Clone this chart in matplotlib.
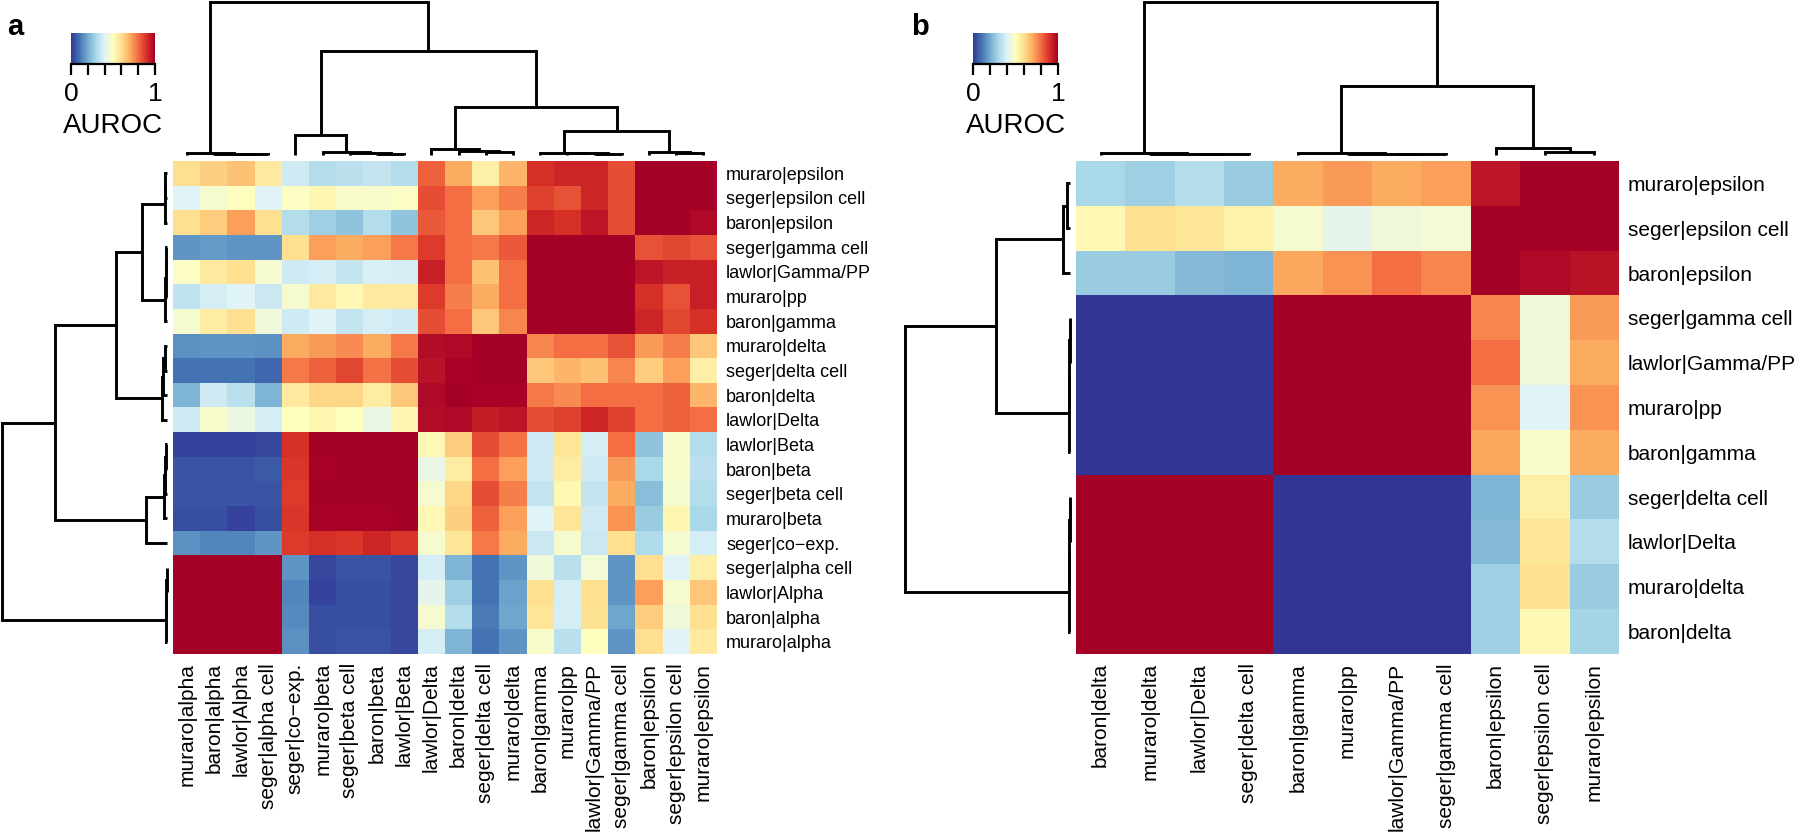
import numpy as np
import matplotlib
matplotlib.use("Agg")
import matplotlib.pyplot as plt

plt.rcParams['font.family'] = ['Liberation Sans', 'DejaVu Sans']

W, H, DPI = 1800, 833, 100

# ---------------- data ----------------
# panel a: column order (also the bottom-up row order)
cols_a = ["muraro|alpha", "baron|alpha", "lawlor|Alpha", "seger|alpha cell",
          "seger|co\u2212exp.", "muraro|beta", "seger|beta cell", "baron|beta",
          "lawlor|Beta", "lawlor|Delta", "baron|delta", "seger|delta cell",
          "muraro|delta", "baron|gamma", "muraro|pp", "lawlor|Gamma/PP",
          "seger|gamma cell", "baron|epsilon", "seger|epsilon cell", "muraro|epsilon"]
rows_a = cols_a[::-1]  # top to bottom

auroc_a = [
    [0.60, 0.63, 0.66, 0.57, 0.37, 0.32, 0.33, 0.35, 0.32, 0.82, 0.70, 0.55, 0.68, 0.90, 0.92, 0.92, 0.85, 1.00, 1.00, 1.00],
    [0.40, 0.47, 0.50, 0.40, 0.49, 0.53, 0.48, 0.48, 0.49, 0.85, 0.80, 0.72, 0.77, 0.87, 0.84, 0.92, 0.85, 1.00, 1.00, 1.00],
    [0.60, 0.64, 0.72, 0.60, 0.32, 0.28, 0.25, 0.32, 0.25, 0.83, 0.80, 0.65, 0.72, 0.92, 0.90, 0.95, 0.85, 1.00, 1.00, 0.98],
    [0.16, 0.17, 0.16, 0.16, 0.60, 0.72, 0.70, 0.72, 0.78, 0.88, 0.80, 0.78, 0.83, 1.00, 1.00, 1.00, 1.00, 0.84, 0.86, 0.84],
    [0.49, 0.57, 0.60, 0.47, 0.37, 0.38, 0.35, 0.39, 0.38, 0.93, 0.80, 0.66, 0.80, 1.00, 1.00, 1.00, 1.00, 0.95, 0.93, 0.93],
    [0.34, 0.38, 0.40, 0.36, 0.47, 0.57, 0.52, 0.57, 0.57, 0.88, 0.77, 0.70, 0.80, 1.00, 1.00, 1.00, 1.00, 0.90, 0.84, 0.93],
    [0.47, 0.56, 0.60, 0.45, 0.37, 0.40, 0.35, 0.38, 0.37, 0.85, 0.80, 0.65, 0.76, 1.00, 1.00, 1.00, 1.00, 0.92, 0.86, 0.90],
    [0.15, 0.16, 0.16, 0.15, 0.70, 0.73, 0.75, 0.70, 0.78, 0.97, 0.98, 1.00, 1.00, 0.76, 0.80, 0.80, 0.84, 0.73, 0.77, 0.65],
    [0.10, 0.10, 0.10, 0.08, 0.78, 0.82, 0.86, 0.79, 0.85, 0.96, 0.99, 1.00, 1.00, 0.65, 0.68, 0.66, 0.76, 0.64, 0.72, 0.55],
    [0.22, 0.37, 0.33, 0.22, 0.57, 0.62, 0.62, 0.56, 0.65, 0.98, 1.00, 0.99, 0.99, 0.78, 0.75, 0.80, 0.80, 0.80, 0.82, 0.68],
    [0.37, 0.48, 0.44, 0.38, 0.50, 0.53, 0.50, 0.43, 0.53, 0.97, 0.98, 0.94, 0.95, 0.85, 0.87, 0.92, 0.87, 0.80, 0.82, 0.80],
    [0.02, 0.02, 0.02, 0.03, 0.90, 1.00, 1.00, 1.00, 1.00, 0.52, 0.64, 0.85, 0.79, 0.37, 0.58, 0.38, 0.80, 0.25, 0.48, 0.32],
    [0.05, 0.05, 0.05, 0.06, 0.89, 0.99, 1.00, 1.00, 1.00, 0.43, 0.56, 0.80, 0.72, 0.37, 0.56, 0.37, 0.73, 0.30, 0.48, 0.33],
    [0.05, 0.05, 0.05, 0.05, 0.88, 1.00, 1.00, 1.00, 1.00, 0.47, 0.62, 0.85, 0.77, 0.35, 0.52, 0.35, 0.70, 0.24, 0.47, 0.32],
    [0.04, 0.04, 0.02, 0.04, 0.89, 0.99, 0.99, 0.99, 1.00, 0.52, 0.63, 0.82, 0.72, 0.40, 0.58, 0.37, 0.74, 0.27, 0.53, 0.30],
    [0.15, 0.13, 0.13, 0.16, 0.88, 0.90, 0.89, 0.92, 0.89, 0.47, 0.58, 0.78, 0.70, 0.36, 0.47, 0.36, 0.60, 0.31, 0.47, 0.38],
    [1.00, 1.00, 1.00, 1.00, 0.16, 0.03, 0.05, 0.05, 0.03, 0.38, 0.22, 0.10, 0.16, 0.45, 0.33, 0.46, 0.16, 0.60, 0.40, 0.55],
    [1.00, 1.00, 1.00, 1.00, 0.13, 0.02, 0.04, 0.04, 0.03, 0.42, 0.28, 0.10, 0.18, 0.60, 0.38, 0.60, 0.16, 0.72, 0.47, 0.65],
    [1.00, 1.00, 1.00, 1.00, 0.14, 0.04, 0.04, 0.04, 0.03, 0.47, 0.32, 0.11, 0.19, 0.58, 0.38, 0.59, 0.19, 0.64, 0.45, 0.60],
    [1.00, 1.00, 1.00, 1.00, 0.15, 0.04, 0.05, 0.05, 0.03, 0.38, 0.22, 0.10, 0.16, 0.48, 0.33, 0.50, 0.16, 0.60, 0.40, 0.57],
]

# panel a dendrogram (leaf indices into cols_a; merge heights, root = 1)
tree_a = ((0, (1, (2, 3, 0.003), 0.005), 0.008),
          ((4, (5, (6, (7, 8, 0.006), 0.010), 0.016), 0.125),
           ((9, (10, (11, 12, 0.015), 0.022), 0.033),
            ((13, (14, (15, 16, 0.005), 0.008), 0.011),
             (17, (18, 19, 0.010), 0.015), 0.153), 0.312), 0.68), 1.0)

# panel b
cols_b = ["baron|delta", "muraro|delta", "lawlor|Delta", "seger|delta cell",
          "baron|gamma", "muraro|pp", "lawlor|Gamma/PP", "seger|gamma cell",
          "baron|epsilon", "seger|epsilon cell", "muraro|epsilon"]
rows_b = cols_b[::-1]

auroc_b = [
    [0.30, 0.28, 0.32, 0.27, 0.70, 0.73, 0.70, 0.72, 0.95, 1.00, 1.00],
    [0.52, 0.60, 0.58, 0.54, 0.47, 0.42, 0.45, 0.46, 1.00, 1.00, 1.00],
    [0.27, 0.27, 0.23, 0.22, 0.71, 0.74, 0.80, 0.76, 1.00, 0.98, 0.96],
    [0.00, 0.00, 0.00, 0.00, 1.00, 1.00, 1.00, 1.00, 0.76, 0.45, 0.73],
    [0.00, 0.00, 0.00, 0.00, 1.00, 1.00, 1.00, 1.00, 0.80, 0.45, 0.70],
    [0.00, 0.00, 0.00, 0.00, 1.00, 1.00, 1.00, 1.00, 0.74, 0.40, 0.74],
    [0.00, 0.00, 0.00, 0.00, 1.00, 1.00, 1.00, 1.00, 0.71, 0.48, 0.70],
    [1.00, 1.00, 1.00, 1.00, 0.00, 0.00, 0.00, 0.00, 0.22, 0.55, 0.27],
    [1.00, 1.00, 1.00, 1.00, 0.00, 0.00, 0.00, 0.00, 0.23, 0.58, 0.32],
    [1.00, 1.00, 1.00, 1.00, 0.00, 0.00, 0.00, 0.00, 0.28, 0.60, 0.27],
    [1.00, 1.00, 1.00, 1.00, 0.00, 0.00, 0.00, 0.00, 0.28, 0.52, 0.29],
]

tree_b = ((0, (1, (2, 3, 0.003), 0.005), 0.008),
          ((4, (5, (6, 7, 0.003), 0.005), 0.008),
           (8, (9, 10, 0.0175), 0.043), 0.45), 1.0)

key_ticks = [0, 0.2, 0.4, 0.6, 0.8, 1.0]
key_labels = ["0", "", "", "", "", "1"]

CMAP = "RdYlBu_r"
LW = 2.1


# ---------------- helpers ----------------
def px_axes(fig, x0, y0, x1, y1):
    return fig.add_axes([x0 / W, 1 - y1 / H, (x1 - x0) / W, (y1 - y0) / H])


def draw_tree(ax, node, orient):
    if isinstance(node, int):
        return float(node), 0.0
    l, r, h = node
    pl, hl = draw_tree(ax, l, orient)
    pr, hr = draw_tree(ax, r, orient)
    p = [pl, pl, pr, pr]
    hh = [hl, h, h, hr]
    if orient == "top":
        ax.plot(p, hh, color="black", lw=LW, clip_on=False,
                solid_capstyle="butt", solid_joinstyle="miter")
    else:
        ax.plot(hh, p, color="black", lw=LW, clip_on=False,
                solid_capstyle="butt", solid_joinstyle="miter")
    return (pl + pr) / 2.0, h


def panel(fig, mat, rows, cols, tree, hm, top_y, left_x, key, letter,
          row_fs, col_fs):
    x0, y0, x1, y1 = hm
    n = len(cols)
    ax = px_axes(fig, x0, y0, x1, y1)
    ax.imshow(np.array(mat), cmap=CMAP, vmin=0, vmax=1, aspect="auto",
              interpolation="nearest", extent=(-0.5, n - 0.5, n - 0.5, -0.5))
    for s in ax.spines.values():
        s.set_visible(False)
    ax.yaxis.tick_right()
    ax.set_yticks(range(n))
    ax.set_yticklabels(rows, fontsize=row_fs)
    ax.set_xticks(range(n))
    ax.set_xticklabels(cols, rotation=90, fontsize=col_fs)
    ax.tick_params(length=0, pad=6.5)

    # top dendrogram
    axt = px_axes(fig, x0, top_y[0], x1, top_y[1])
    axt.set_xlim(-0.5, n - 0.5)
    axt.set_ylim(0, 1)
    axt.axis("off")
    draw_tree(axt, tree, "top")

    # left dendrogram (leaves bottom-up)
    axl = px_axes(fig, left_x[0], y0, left_x[1], y1)
    axl.set_ylim(-0.5, n - 0.5)
    axl.set_xlim(1, 0)
    axl.axis("off")
    draw_tree(axl, tree, "left")

    # color key
    kx0, ky0, kx1, ky1 = key
    axk = px_axes(fig, kx0, ky0, kx1, ky1)
    axk.imshow(np.linspace(0, 1, 256)[None, :], cmap=CMAP, vmin=0, vmax=1,
               aspect="auto", extent=(0, 1, 0, 1))
    axk.set_xlim(0, 1)
    axk.set_ylim(0, 1)
    for s in ["top", "left", "right"]:
        axk.spines[s].set_visible(False)
    axk.spines["bottom"].set_linewidth(1.6)
    axk.set_yticks([])
    axk.set_xticks(key_ticks)
    axk.set_xticklabels(key_labels, fontsize=19)
    axk.tick_params(axis="x", length=7.8, width=1.6, pad=5)
    fig.text(((kx0 + kx1) / 2) / W, 1 - 133 / H, "AUROC", fontsize=20,
             ha="center", va="baseline")
    fig.text(letter[0] / W, 1 - 35 / H, letter[1], fontsize=21,
             fontweight="bold", ha="left", va="baseline")


fig = plt.figure(figsize=(W / DPI, H / DPI), dpi=DPI)

panel(fig, auroc_a, rows_a, cols_a, tree_a,
      hm=(173, 161, 717, 654), top_y=(1.7, 154.5), left_x=(2.3, 167),
      key=(71, 32.7, 155, 64.3), letter=(7, "a"), row_fs=13, col_fs=15)

panel(fig, auroc_b, rows_b, cols_b, tree_b,
      hm=(1076, 161, 1619, 654), top_y=(1.7, 154.5), left_x=(905, 1070),
      key=(973, 32.7, 1058, 64.3), letter=(911, "b"), row_fs=15, col_fs=15)

fig.savefig("out.png", dpi=DPI)
